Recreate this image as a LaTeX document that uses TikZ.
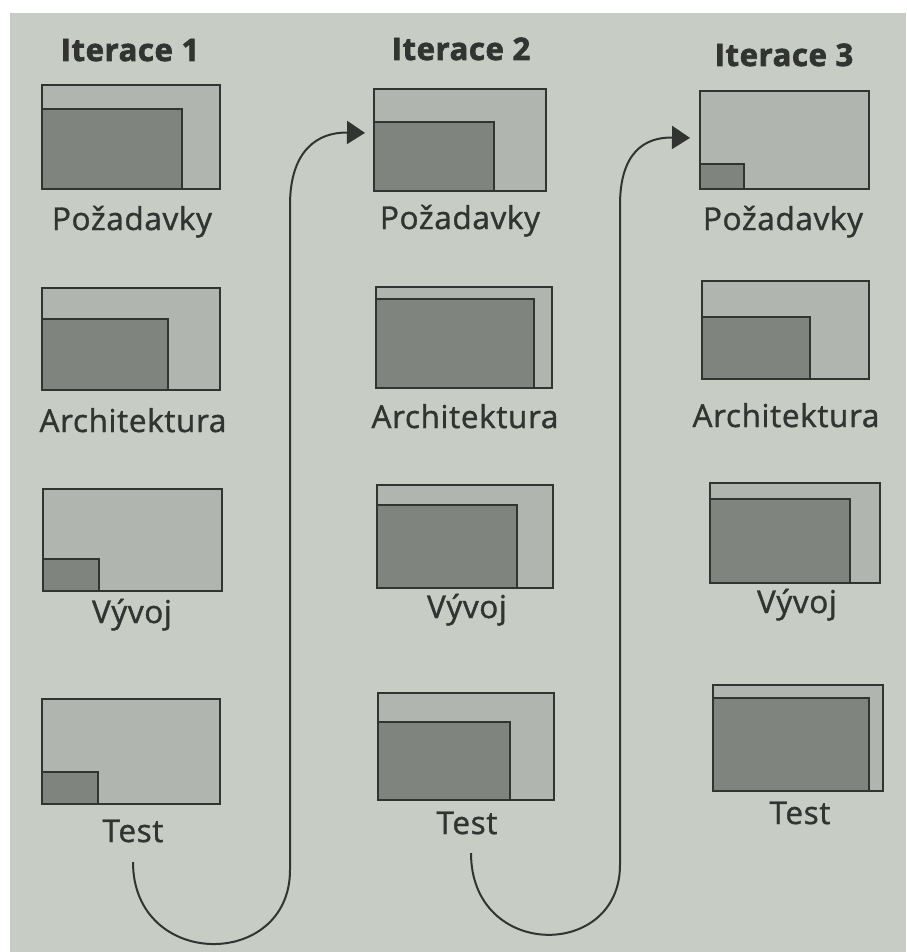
\documentclass[tikz,border=0pt]{standalone}
\usepackage{fontspec}
\setmainfont{Open Sans}
\usetikzlibrary{arrows.meta}

\definecolor{paper}{RGB}{199,204,197}
\definecolor{lightfill}{RGB}{177,181,175}
\definecolor{darkfill}{RGB}{128,132,126}
\definecolor{ink}{RGB}{50,52,50}

\tikzset{
  outerbox/.style={rectangle, draw=ink, fill=lightfill, line width=1.8pt,
    inner sep=0pt, anchor=north west},
  innerbox/.style={rectangle, draw=ink, fill=darkfill, line width=1.8pt,
    inner sep=0pt, anchor=south west},
  headtext/.style={text=ink, anchor=base, inner sep=0pt,
    font=\fontsize{31}{31}\selectfont\bfseries\addfontfeature{FakeBold=2.2,LetterSpace=2}},
  captext/.style={text=ink, anchor=base, inner sep=0pt,
    font=\fontsize{31.5}{31.5}\selectfont\addfontfeature{FakeBold=1.2,LetterSpace=2}},
  flow/.style={draw=ink, line width=2pt, -{Triangle[length=18pt,width=23pt]}}
}

% #1 name, #2 top-left corner, #3 width, #4 height, #5 inner width, #6 inner height
\newcommand\stagebox[6]{%
  \node[outerbox, minimum width=#3pt, minimum height=#4pt] (#1) at #2 {};
  \node[innerbox, minimum width=#5pt, minimum height=#6pt] (#1i) at (#1.south west) {};
}

\begin{document}
\begin{tikzpicture}[x=1pt, y=-1pt]
  \useasboundingbox (0,0) rectangle (906,952);
  \fill[white] (0,0) rectangle (906,952);
  \fill[paper] (10,13) rectangle (906,952);

  % column headings
  \node[headtext] (h1) at (130,61) {Iterace 1};
  \node[headtext] (h2) at (461,60) {Iterace 2};
  \node[headtext] (h3) at (784,66) {Iterace 3};

  % iteration 1
  \stagebox{b11}{(41,84)}{178}{104}{140}{80}
  \stagebox{b12}{(41,287)}{178}{102}{126}{71}
  \stagebox{b13}{(42,488)}{179}{102}{56}{32}
  \stagebox{b14}{(41,698)}{178}{105}{56}{32}
  \node[captext] (p1) at (132,230) {Požadavky};
  \node[captext] (a1) at (133,432) {Architektura};
  \node[captext] (v1) at (132,623) {Vývoj};
  \node[captext] (t1) at (133,842) {Test};

  % iteration 2
  \stagebox{b21}{(373,88)}{172}{102}{120}{69}
  \stagebox{b22}{(375,286)}{176}{101}{158}{89}
  \stagebox{b23}{(376,484)}{176}{103}{140}{83}
  \stagebox{b24}{(377,692)}{176}{107}{132}{78}
  \node[captext] (p2) at (460,229) {Požadavky};
  \node[captext] (a2) at (465,428) {Architektura};
  \node[captext] (v2) at (467,618) {Vývoj};
  \node[captext] (t2) at (467,834) {Test};

  % iteration 3
  \stagebox{b31}{(699,90)}{169}{98}{44}{25}
  \stagebox{b32}{(701,280)}{167}{98}{108}{62}
  \stagebox{b33}{(709,482)}{170}{100}{140}{84}
  \stagebox{b34}{(712,684)}{170}{106}{156}{93}
  \node[captext] (p3) at (783,230) {Požadavky};
  \node[captext] (a3) at (786,427) {Architektura};
  \node[captext] (v3) at (797,613) {Vývoj};
  \node[captext] (t3) at (800,824) {Test};

  % loops from one iteration's test to the next iteration's requirements
  \coordinate (s1) at ([yshift=-20pt]t1.base);
  \coordinate (e1) at ([xshift=-8pt,yshift=7pt]b21.west);
  \coordinate (s2) at ([xshift=4pt,yshift=-19pt]t2.base);
  \coordinate (e2) at ([xshift=-9pt,yshift=2pt]b31.west);

  \draw[flow] (s1) .. controls ++(0,108) and (290,970) .. (290,870)
    -- (290,205) .. controls (290,150) and (318,132) .. (e1);
  \draw[flow] (s2) .. controls ++(0,107) and (620,960) .. (620,865)
    -- (620,205) .. controls (620,152) and (645,137) .. (e2);
\end{tikzpicture}
\end{document}
